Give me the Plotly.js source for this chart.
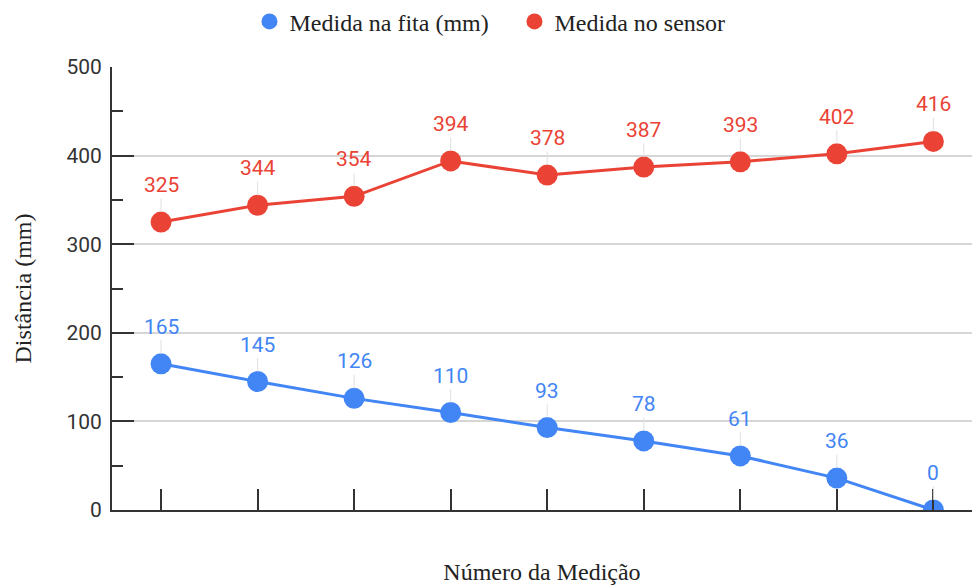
<!DOCTYPE html>
<html><head><meta charset="utf-8">
<script src="https://cdn.plot.ly/plotly-3.0.1.min.js"></script>
<style>html,body{margin:0;padding:0;background:#fff}#c{width:972px;height:588px}</style>
</head><body><div id="c"></div>
<script>
const medicoes = [1,2,3,4,5,6,7,8,9];
const medidaFita = [165,145,126,110,93,78,61,36,0];
const medidaSensor = [325,344,354,394,378,387,393,402,416];
const nomeFita = 'Medida na fita (mm)';
const nomeSensor = 'Medida no sensor';
const azul = '#4285F4', vermelho = '#EA4335';

function serie(y, nome, cor){
  return {x: medicoes, y: y, name: nome, type:'scatter', mode:'lines+markers',
    line:{color:cor, width:3}, marker:{color:cor, size:21}, showlegend:false, hoverinfo:'none'};
}
function legenda(nome, cor){
  return {x:[null], y:[null], name:nome, type:'scatter', mode:'markers',
    marker:{color:cor, size:21}, showlegend:true};
}
function rotulos(y, cor){
  return y.map((v,i)=>({x: medicoes[i], y: v, text: String(v), showarrow:true,
    arrowhead:0, arrowwidth:1, arrowcolor:'#e0e0e0', ax:0, ay:-37, standoff:10,
    font:{family:'Roboto', size:21, color:cor}}));
}
const data = [serie(medidaFita, nomeFita, azul), serie(medidaSensor, nomeSensor, vermelho),
  legenda(nomeFita, azul), legenda(nomeSensor, vermelho)];
const layout = {
  width:972, height:588, paper_bgcolor:'#fff', plot_bgcolor:'#fff',
  margin:{l:112, r:0, t:67, b:78, autoexpand:false},
  showlegend:true,
  legend:{orientation:'h', x:0.468, xanchor:'center', y:1.102, yanchor:'middle', entrywidth:220,
    font:{family:'Liberation Serif', size:24, color:'#222'}, itemwidth:30},
  xaxis:{range:[0.492, 9.40], tickmode:'linear', tick0:1, dtick:1, ticks:'inside', ticklen:21,
    tickwidth:2, tickcolor:'#333', showticklabels:false, showgrid:false, zeroline:false,
    showline:true, linecolor:'#333', linewidth:2,
    title:{text:'Número da Medição', standoff:52, font:{family:'Liberation Serif', size:24, color:'#222'}}},
  yaxis:{range:[0,500], tickmode:'linear', tick0:0, dtick:100, ticks:'inside', ticklen:22,
    tickwidth:2, tickcolor:'#333', showgrid:true, gridcolor:'#d6d6d6', gridwidth:2, zeroline:false,
    showline:true, linecolor:'#333', linewidth:2,
    minor:{dtick:50, ticks:'inside', ticklen:11, tickwidth:2, tickcolor:'#333', showgrid:false},
    tickfont:{family:'Roboto', size:21, color:'#333'},
    ticklabelstandoff:4,
    title:{text:'Distância (mm)', standoff:28, font:{family:'Liberation Serif', size:24, color:'#222'}}},
  annotations: rotulos(medidaFita, azul).concat(rotulos(medidaSensor, vermelho))
};
Plotly.newPlot('c', data, layout, {displayModeBar:false, staticPlot:true});
</script></body></html>
